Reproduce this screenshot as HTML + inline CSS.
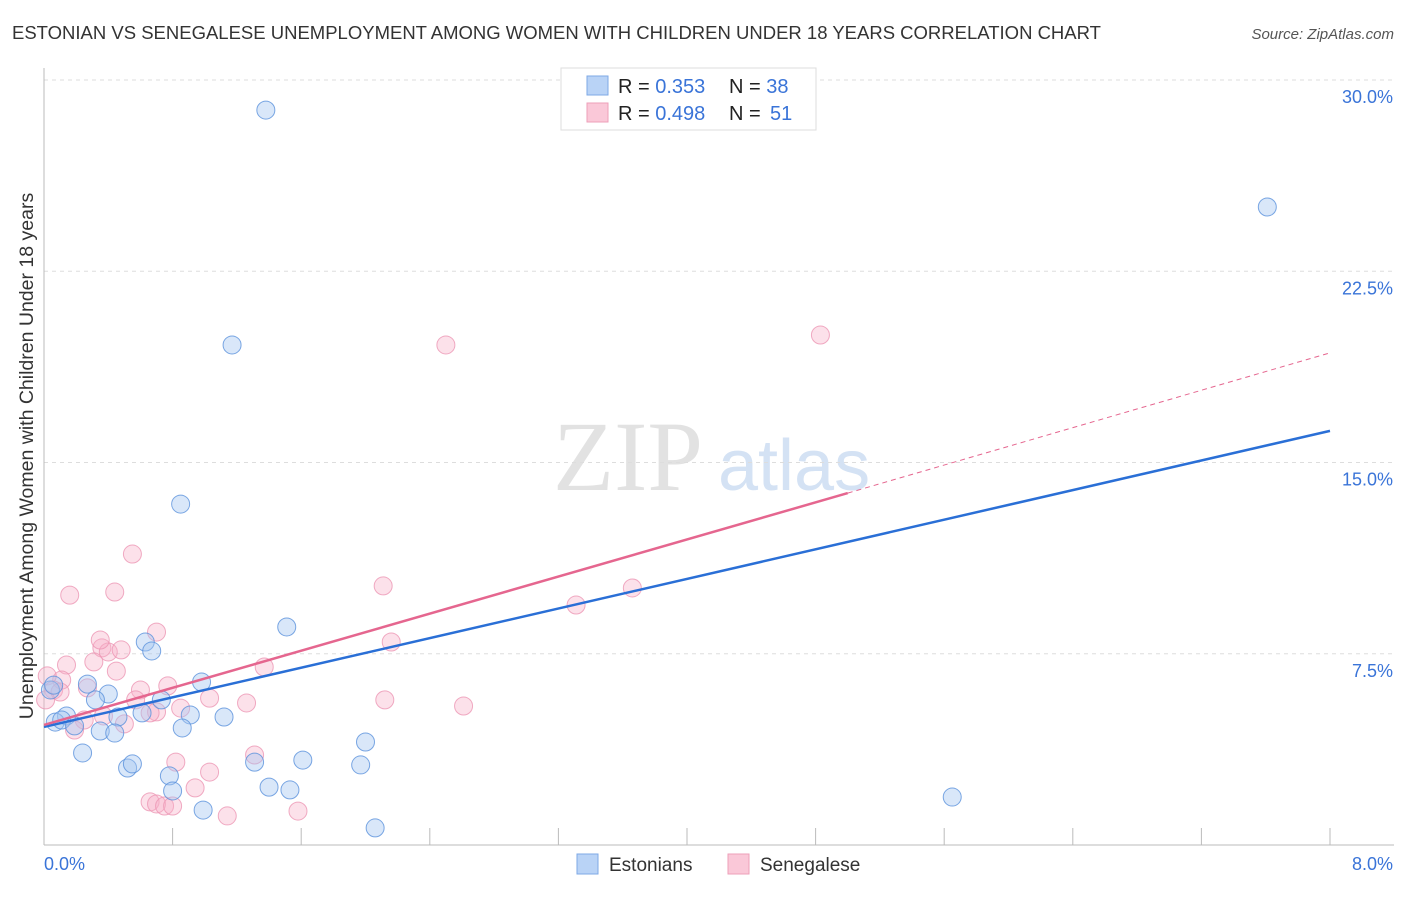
<!DOCTYPE html>
<html><head><meta charset="utf-8"><style>
body{margin:0;background:#fff;font-family:"Liberation Sans",sans-serif;}
svg text{font-family:"Liberation Sans",sans-serif;}
svg text.serif{font-family:"Liberation Serif",serif;}
</style></head><body>
<svg id="chart" width="1406" height="892">
<text x="12" y="39" font-size="18.5" fill="#333">ESTONIAN VS SENEGALESE UNEMPLOYMENT AMONG WOMEN WITH CHILDREN UNDER 18 YEARS CORRELATION CHART</text>
<text x="1394" y="39" font-size="15" fill="#555" font-style="italic" text-anchor="end">Source: ZipAtlas.com</text>
<text class="serif" x="553" y="490" font-size="100" fill="#e2e2e2">ZIP</text>
<text x="718" y="490" font-size="72" fill="#d4e2f4">atlas</text>
<text transform="translate(33,456) rotate(-90)" font-size="19.5" fill="#333" text-anchor="middle">Unemployment Among Women with Children Under 18 years</text>
<g id="grid"></g><g id="marks"></g><g id="lines"></g>
<g>
<rect x="561" y="68" width="255" height="62" fill="#fff" stroke="#ddd"/>
<rect x="587" y="76" width="21" height="19" fill="#b9d3f6" stroke="#7ea8e6"/>
<rect x="587" y="103" width="21" height="19" fill="#fac8d8" stroke="#ee9fb9"/>
<text x="618" y="93" font-size="20" fill="#222">R = <tspan fill="#3a74d8">0.353</tspan><tspan x="729">N = </tspan><tspan fill="#3a74d8">38</tspan></text>
<text x="618" y="120" font-size="20" fill="#222">R = <tspan fill="#3a74d8">0.498</tspan><tspan x="729">N = </tspan><tspan fill="#3a74d8" x="770">51</tspan></text>
</g>
<g>
<rect x="577" y="854" width="21" height="20" fill="#b9d3f6" stroke="#7ea8e6"/>
<text x="609" y="871" font-size="19" fill="#333">Estonians</text>
<rect x="728" y="854" width="21" height="20" fill="#fac8d8" stroke="#ee9fb9"/>
<text x="760" y="871" font-size="19" fill="#333">Senegalese</text>
</g>
</svg>
<script>
const yTicks=[7.5,15,22.5,30];
const yTickLabels=["7.5%","15.0%","22.5%","30.0%"];
const xTicks=[0.8,1.6,2.4,3.2,4.0,4.8,5.6,6.4,7.2,8.0];
const estX=[1.38,7.61,1.17,0.85,1.51,0.63,0.67,0.27,0.40,0.32,0.98,0.73,0.91,1.12,0.61,0.46,0.14,0.07,0.11,0.19,0.35,0.44,0.86,0.24,0.52,0.55,0.78,0.80,0.99,1.31,1.61,1.40,1.53,1.97,2.00,2.06,5.65,0.04,0.06];
const estY=[28.82,25.02,19.61,13.37,8.55,7.96,7.61,6.31,5.92,5.69,6.39,5.69,5.10,5.02,5.18,5.02,5.06,4.82,4.90,4.67,4.47,4.39,4.59,3.61,3.02,3.18,2.71,2.12,1.37,3.25,3.33,2.27,2.16,3.14,4.04,0.67,1.88,6.08,6.27];
const senX=[2.50,4.83,0.55,0.16,0.44,2.11,3.66,3.31,0.70,0.36,0.40,0.48,0.14,0.31,2.16,1.37,0.45,0.11,0.02,0.06,0.10,0.27,0.60,0.77,0.57,1.03,1.26,2.12,2.61,0.70,0.66,0.85,0.37,0.50,0.25,0.19,1.31,0.82,1.03,0.94,0.66,0.70,0.75,0.80,1.14,1.58,0.35,0.01];
const senY=[19.61,20.0,11.41,9.80,9.92,10.16,10.08,9.41,8.35,7.73,7.57,7.65,7.06,7.18,7.96,6.98,6.82,6.47,6.63,6.08,6.00,6.16,6.08,6.24,5.69,5.76,5.57,5.69,5.45,5.22,5.18,5.37,5.06,4.75,4.90,4.51,3.53,3.25,2.86,2.24,1.69,1.61,1.53,1.53,1.14,1.33,8.04,5.69];
const estTrend=[[0,4.63],[8,16.24]];
const senTrendSolid=[[0,4.71],[5.0,13.8]];
const senTrendDash=[[5.0,13.8],[8,19.3]];
const NS="http://www.w3.org/2000/svg";
const X=v=>44+v*160.75, Y=v=>845-v*25.5;
function mk(p,tag,a){const e=document.createElementNS(NS,tag);for(const k in a)e.setAttribute(k,a[k]);p.appendChild(e);return e;}
const g=document.getElementById('grid');
yTicks.forEach((t,i)=>{
 const l=mk(g,'line',{x1:44,x2:1394,y1:Y(t),y2:Y(t),stroke:'#ddd','stroke-dasharray':'4,4'});
 
 
 const tx=mk(g,'text',{x:1393,y:Y(t)+23,'font-size':18,fill:'#3a74d8','text-anchor':'end'});
 tx.textContent=yTickLabels[i];
 
 
});
const ax=mk(g,'line',{x1:44,x2:44,y1:68,y2:845,stroke:'#bbb'});


const bx=mk(g,'line',{x1:44,x2:1394,y1:845,y2:845,stroke:'#bbb'});


xTicks.forEach(t=>{
 const l=mk(g,'line',{x1:X(t),x2:X(t),y1:845,y2:828,stroke:'#bbb'});
 
 
});
const x0=mk(g,'text',{x:44,y:870,'font-size':18,fill:'#3a74d8'});x0.textContent='0.0%';


const x1=mk(g,'text',{x:1393,y:870,'font-size':18,fill:'#3a74d8','text-anchor':'end'});x1.textContent='8.0%';


const m=document.getElementById('marks');
senX.forEach((v,i)=>{
 const c=mk(m,'circle',{cx:X(v),cy:Y(senY[i]),r:9,fill:'rgba(246,175,199,0.38)',stroke:'rgba(236,150,180,0.8)','stroke-width':1});
 
 
});
estX.forEach((v,i)=>{
 const c=mk(m,'circle',{cx:X(v),cy:Y(estY[i]),r:9,fill:'rgba(165,198,240,0.42)',stroke:'rgba(90,145,220,0.8)','stroke-width':1});
 
 
});
const L=document.getElementById('lines');
const t1=mk(L,'line',{x1:X(estTrend[0][0]),y1:Y(estTrend[0][1]),x2:X(estTrend[1][0]),y2:Y(estTrend[1][1]),stroke:'#2a6fd6','stroke-width':2.5});


const t2=mk(L,'line',{x1:X(senTrendSolid[0][0]),y1:Y(senTrendSolid[0][1]),x2:X(senTrendSolid[1][0]),y2:Y(senTrendSolid[1][1]),stroke:'#e5668f','stroke-width':2.5});


const t3=mk(L,'line',{x1:X(senTrendDash[0][0]),y1:Y(senTrendDash[0][1]),x2:X(senTrendDash[1][0]),y2:Y(senTrendDash[1][1]),stroke:'#e5668f','stroke-width':1,'stroke-dasharray':'5,4'});


</script>
</body></html>
